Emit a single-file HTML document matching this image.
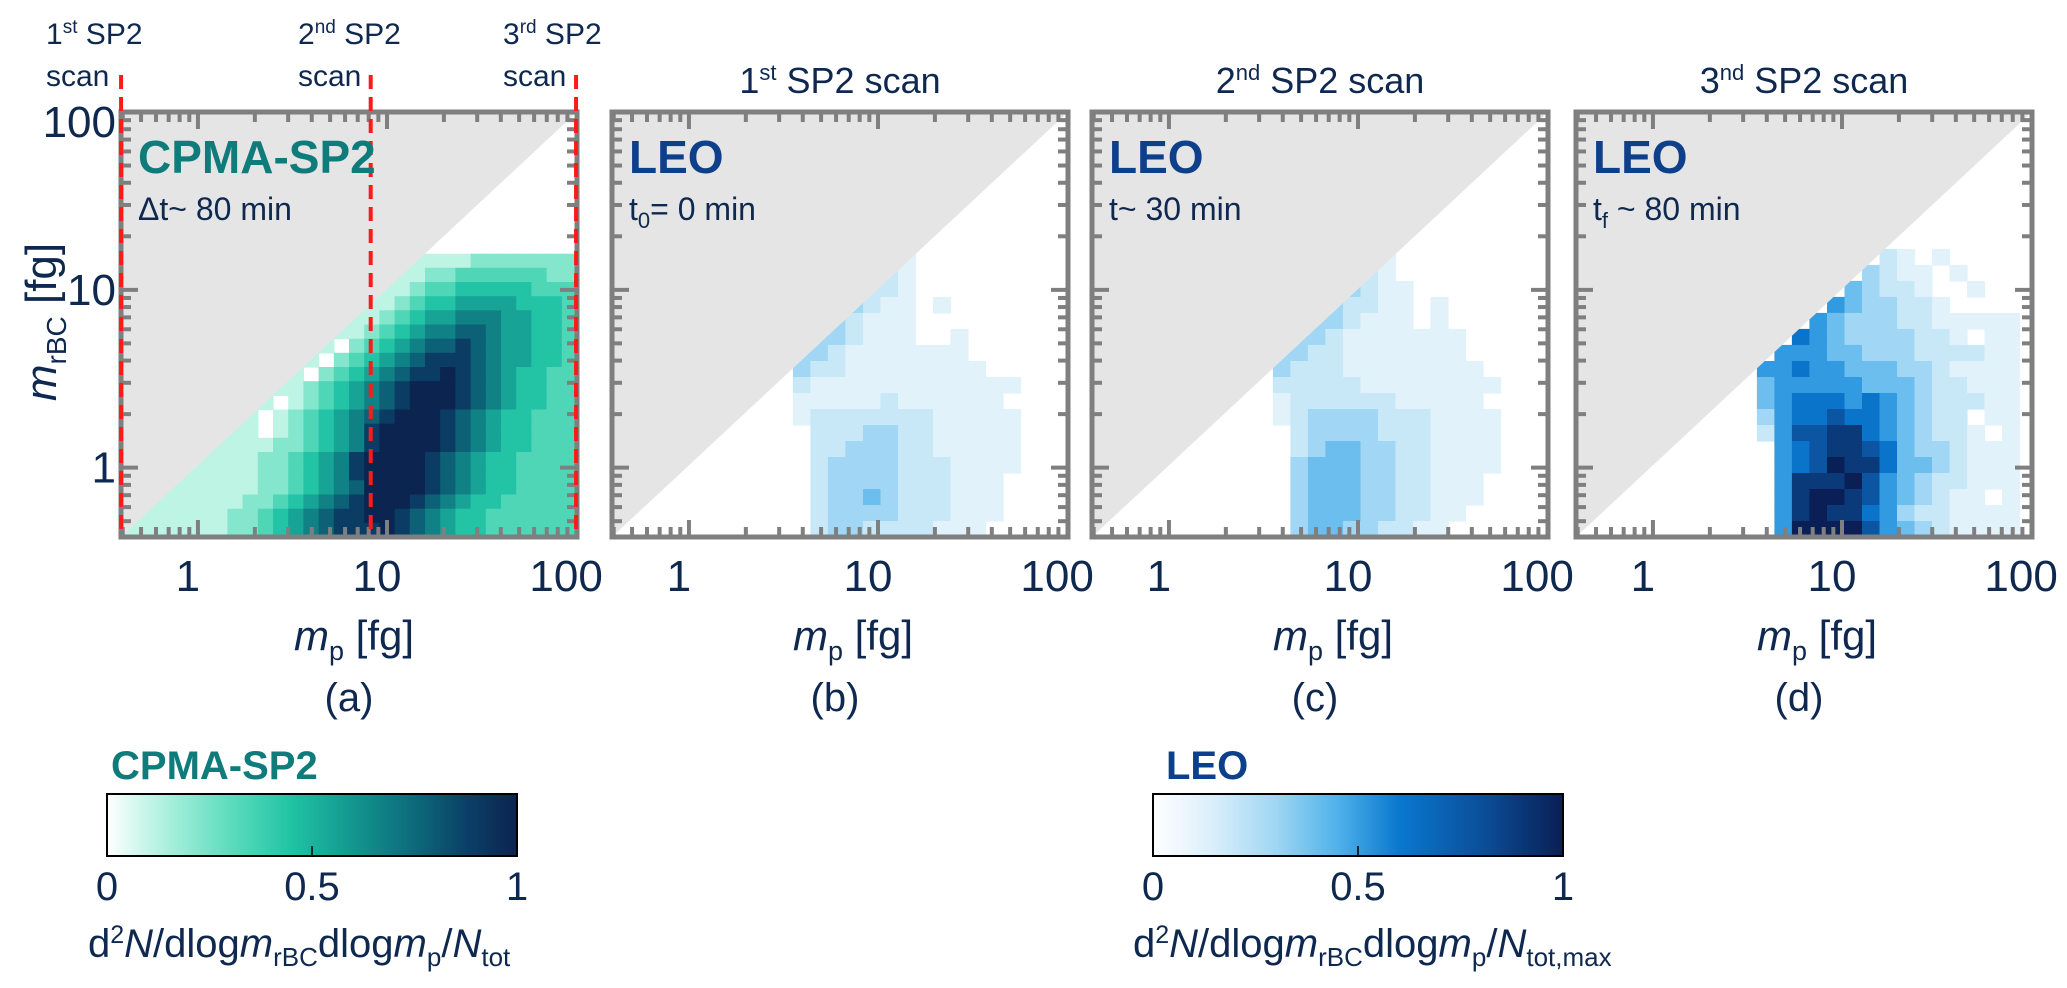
<!DOCTYPE html>
<html><head><meta charset="utf-8"><style>
html,body{margin:0;padding:0;background:#fff;}
svg{display:block;font-family:"Liberation Sans",sans-serif;}
text{fill:#0f2850;}
</style></head><body>
<svg id="fig" width="2067" height="988" viewBox="0 0 2067 988" xmlns="http://www.w3.org/2000/svg">
<defs>
<linearGradient id="gC" x1="0" x2="1" y1="0" y2="0">
<stop offset="0" stop-color="#ffffff"/><stop offset="0.12" stop-color="#b8f3e2"/><stop offset="0.3" stop-color="#5ddcbd"/><stop offset="0.45" stop-color="#20c3a4"/><stop offset="0.6" stop-color="#13968f"/><stop offset="0.75" stop-color="#0c6a7a"/><stop offset="0.88" stop-color="#0b3f66"/><stop offset="1" stop-color="#0b2450"/>
</linearGradient>
<linearGradient id="gL" x1="0" x2="1" y1="0" y2="0">
<stop offset="0" stop-color="#ffffff"/><stop offset="0.15" stop-color="#d9eefa"/><stop offset="0.3" stop-color="#9fd6f3"/><stop offset="0.45" stop-color="#4fb2ea"/><stop offset="0.6" stop-color="#0a78d0"/><stop offset="0.8" stop-color="#0b4f9a"/><stop offset="1" stop-color="#0a1f55"/>
</linearGradient>
</defs>
<g id="layer"></g>

<text x="46" y="44" font-size="30">1<tspan dy="-11" font-size="19">st</tspan><tspan dy="11"> SP2</tspan></text>
<text x="46" y="86" font-size="30">scan</text>
<text x="298" y="44" font-size="30">2<tspan dy="-11" font-size="19">nd</tspan><tspan dy="11"> SP2</tspan></text>
<text x="298" y="86" font-size="30">scan</text>
<text x="503" y="44" font-size="30">3<tspan dy="-11" font-size="19">rd</tspan><tspan dy="11"> SP2</tspan></text>
<text x="503" y="86" font-size="30">scan</text>

<text x="840" y="93" font-size="36" text-anchor="middle">1<tspan dy="-13" font-size="22">st</tspan><tspan dy="13"> SP2 scan</tspan></text>
<text x="1320" y="93" font-size="36" text-anchor="middle">2<tspan dy="-13" font-size="22">nd</tspan><tspan dy="13"> SP2 scan</tspan></text>
<text x="1804" y="93" font-size="36" text-anchor="middle">3<tspan dy="-13" font-size="22">nd</tspan><tspan dy="13"> SP2 scan</tspan></text>

<text x="138" y="173" font-size="46" font-weight="bold" style="fill:#0f7b7b">CPMA-SP2</text>
<text x="138" y="220" font-size="32">Δt~ 80 min</text>
<text x="629" y="173" font-size="46" font-weight="bold" style="fill:#0d3f8a">LEO</text>
<text x="629" y="220" font-size="32">t<tspan dy="8" font-size="22">0</tspan><tspan dy="-8">= 0 min</tspan></text>
<text x="1109" y="173" font-size="46" font-weight="bold" style="fill:#0d3f8a">LEO</text>
<text x="1109" y="220" font-size="32">t~ 30 min</text>
<text x="1593" y="173" font-size="46" font-weight="bold" style="fill:#0d3f8a">LEO</text>
<text x="1593" y="220" font-size="32">t<tspan dy="8" font-size="22">f</tspan><tspan dy="-8"> ~ 80 min</tspan></text>

<text transform="translate(56,322) rotate(-90)" font-size="44" text-anchor="middle"><tspan font-style="italic">m</tspan><tspan dy="10" font-size="28">rBC</tspan><tspan dy="-10"> [fg]</tspan></text>

<text x="354" y="650" font-size="42" text-anchor="middle"><tspan font-style="italic">m</tspan><tspan dy="10" font-size="27">p</tspan><tspan dy="-10"> [fg]</tspan></text>
<text x="853" y="650" font-size="42" text-anchor="middle"><tspan font-style="italic">m</tspan><tspan dy="10" font-size="27">p</tspan><tspan dy="-10"> [fg]</tspan></text>
<text x="1333" y="650" font-size="42" text-anchor="middle"><tspan font-style="italic">m</tspan><tspan dy="10" font-size="27">p</tspan><tspan dy="-10"> [fg]</tspan></text>
<text x="1817" y="650" font-size="42" text-anchor="middle"><tspan font-style="italic">m</tspan><tspan dy="10" font-size="27">p</tspan><tspan dy="-10"> [fg]</tspan></text>
<text x="349" y="711" font-size="40" text-anchor="middle">(a)</text>
<text x="835" y="711" font-size="40" text-anchor="middle">(b)</text>
<text x="1315" y="711" font-size="40" text-anchor="middle">(c)</text>
<text x="1799" y="711" font-size="40" text-anchor="middle">(d)</text>

<text x="111" y="779" font-size="40" font-weight="bold" style="fill:#0f7b7b">CPMA-SP2</text>
<rect x="107" y="794" width="410" height="62" fill="url(#gC)" stroke="#000" stroke-width="2"/>
<line x1="312" y1="856" x2="312" y2="846" stroke="#000" stroke-width="1.5"/>
<text x="107" y="900" font-size="40" text-anchor="middle">0</text>
<text x="312" y="900" font-size="40" text-anchor="middle">0.5</text>
<text x="517" y="900" font-size="40" text-anchor="middle">1</text>
<text x="88" y="957" font-size="40">d<tspan dy="-14" font-size="25">2</tspan><tspan dy="14" font-style="italic">N</tspan>/dlog<tspan font-style="italic">m</tspan><tspan dy="9" font-size="26">rBC</tspan><tspan dy="-9">dlog</tspan><tspan font-style="italic">m</tspan><tspan dy="9" font-size="26">p</tspan><tspan dy="-9">/</tspan><tspan font-style="italic">N</tspan><tspan dy="9" font-size="26">tot</tspan></text>

<text x="1166" y="779" font-size="40" font-weight="bold" style="fill:#0d3f8a">LEO</text>
<rect x="1153" y="794" width="410" height="62" fill="url(#gL)" stroke="#000" stroke-width="2"/>
<line x1="1358" y1="856" x2="1358" y2="846" stroke="#000" stroke-width="1.5"/>
<text x="1153" y="900" font-size="40" text-anchor="middle">0</text>
<text x="1358" y="900" font-size="40" text-anchor="middle">0.5</text>
<text x="1563" y="900" font-size="40" text-anchor="middle">1</text>
<text x="1133" y="957" font-size="40">d<tspan dy="-14" font-size="25">2</tspan><tspan dy="14" font-style="italic">N</tspan>/dlog<tspan font-style="italic">m</tspan><tspan dy="9" font-size="26">rBC</tspan><tspan dy="-9">dlog</tspan><tspan font-style="italic">m</tspan><tspan dy="9" font-size="26">p</tspan><tspan dy="-9">/</tspan><tspan font-style="italic">N</tspan><tspan dy="9" font-size="26">tot,max</tspan></text>
</svg>
<script>
// ---- data ----
const xTickValues = [1, 10, 100];
const xTickLabels = ["1", "10", "100"];
const yTickValues = [1, 10, 100];
const yTickLabels = ["1", "10", "100"];
const scanMasses = [0.392, 8.2, 100];
// CPMA-SP2 grid (top row first), digits 0-9 -> value/9, '.' empty
const cpmaRows = [
"..............................",
"..............................",
"..............................",
"..............................",
"..............................",
"..............................",
"..............................",
"..............................",
"..............................",
"..............................",
"...................11112222222",
"..................112233333322",
".................1123344444333",
"................11234455554443",
"...............112345566655443",
"..............1123456677655443",
".............10234567787655443",
"............102345678887655443",
"...........1023456788987654433",
"..........11234567899987654433",
".........101234567899987654433",
"........1012345678999876544333",
".......11012345689999876544333",
"......111122345689999876544333",
".....1111223456899998765443333",
"....11111223456899998765443333",
"...111111223456799998765443333",
"..1111112234567899987654433333",
".11111122345678899876544333333",
"111111122345678889876544333333"
];
// LEO grids (top row first)
const leoB = [
"......1........",
".....21........",
"....221........",
"...3211.1......",
"..32111........",
".332111..1.....",
"3321111111.....",
"32211111111....",
"2111111111111..",
"111112111111...",
"1222222211111..",
".222332211111..",
".223332211111..",
".233332221111..",
".23333222111...",
".23343222111...",
".23333222111...",
".2332222111...."
];
const leoC = [
"......1........",
".....21........",
"....3211.......",
"...32211.1.....",
"..332111.1.....",
".3321111111....",
"33221111111....",
"322211111111...",
"2222211111111..",
"122222211111...",
"1233332221111..",
".233332221111..",
".234433221111..",
".344433221111..",
".34443322111...",
".34443322111...",
".3444332211....",
".344332211....."
];
const leoD = [
".......21.1....",
"......3211.1...",
".....43221..1..",
"....5433221....",
"...543332211111",
"..6543333221.11",
".55544333222211",
"556554443321111",
"455555444322111",
"456665654322211",
"356676654322.11",
"2577886543221.1",
".56788764332111",
".56798864432111",
".58889754322111",
".589987543211.1",
".58988653221111",
".59999754321111"
];

// ---- geometry ----
const panelLefts = [121, 612, 1092, 1576];
const TOP = 112, W = 456, H = 425;
const XL0 = -0.407, XL1 = 2.005, YL0 = -0.39, YL1 = 2.0;
function xs(v, left){ return left + (Math.log10(v) - XL0) / (XL1 - XL0) * W; }
function xsl(l, left){ return left + (l - XL0) / (XL1 - XL0) * W; }
function ys(v){ return TOP + H - (Math.log10(v) - YL0) / (YL1 - YL0) * H; }
function ysl(l){ return TOP + H - (l - YL0) / (YL1 - YL0) * H; }

const NS = "http://www.w3.org/2000/svg";
const layer = document.getElementById('layer');
function mk(tag, attrs, parent){ const e = document.createElementNS(NS, tag); for (const k in attrs) e.setAttribute(k, attrs[k]); (parent||layer).appendChild(e); return e; }
function hex(c){ return [parseInt(c.slice(1,3),16),parseInt(c.slice(3,5),16),parseInt(c.slice(5,7),16)]; }
function cmap(stops, t){
  for (let i=1;i<stops.length;i++){ if (t<=stops[i][0]){ const a=stops[i-1], b=stops[i]; const f=(t-a[0])/(b[0]-a[0]); const ca=hex(a[1]), cb=hex(b[1]); return 'rgb('+ca.map((v,k)=>Math.round(v+(cb[k]-v)*f)).join(',')+')'; } }
  return stops[stops.length-1][1];
}
const cStops = [[0,'#ffffff'],[0.12,'#b8f3e2'],[0.3,'#5ddcbd'],[0.45,'#20c3a4'],[0.6,'#13968f'],[0.75,'#0c6a7a'],[0.88,'#0b3f66'],[1,'#0b2450']];
const lStops = [[0,'#ffffff'],[0.12,'#e0f1fa'],[0.25,'#c2e5f7'],[0.4,'#86cbf1'],[0.5,'#4aaee9'],[0.65,'#0a78d0'],[0.8,'#0b4f9a'],[1,'#0a1f55']];

function drawGrid(rows, left, xl0, dx, yl0, dy, stops, name){
  const g = mk('g', {'clip-path':'url(#clip'+left+')'});
  
  
  const n = rows.length;
  rows.forEach((row, r) => {
    const j = n - 1 - r;
    for (let i=0;i<row.length;i++){
      const ch = row[i];
      if (ch === '.' || ch === '0') continue;
      const v = parseInt(ch,10)/9;
      const x0 = xsl(xl0 + i*dx, left), x1 = xsl(xl0 + (i+1)*dx, left);
      const y0 = ysl(yl0 + (j+1)*dy), y1 = ysl(yl0 + j*dy);
      const c = mk('rect', {x:x0.toFixed(1), y:y0.toFixed(1), width:(x1-x0+0.6).toFixed(1), height:(y1-y0+0.6).toFixed(1), fill:cmap(stops, v)}, g);
      
      
    }
  });
}

const defs = document.querySelector('defs');
const grids = [cpmaRows, leoB, leoC, leoD];
panelLefts.forEach((left, p) => {
  const cp = mk('clipPath', {id:'clip'+left}, defs);
  mk('rect', {x:left, y:TOP, width:W, height:H}, cp);
  if (p === 0) drawGrid(cpmaRows, left, XL0, (XL1-XL0)/30, YL0, (YL1-YL0)/30, cStops, 'cpma-heatmap');
  else drawGrid(grids[p], left, 0.55, 0.0926, YL0, 0.09, lStops, 'leo-heatmap-'+p);
  const tri = mk('polygon', {points: `${left},${TOP+H} ${left},${TOP} ${left+W},${TOP}`, fill:'#e5e5e5'});
  
  
  const tg = mk('g', {stroke:'#7f7f7f', 'stroke-width':4});
  
  
  for (let e=-1;e<=2;e++){
    for (let m=1;m<=9;m++){
      const v = m*Math.pow(10,e);
      const l = Math.log10(v);
      const major = (m===1);
      const len = major ? 17 : 10;
      if (l > XL0+0.005 && l < XL1-0.005){
        const x = xs(v, left);
        mk('line', {x1:x, y1:TOP+H, x2:x, y2:TOP+H-len}, tg);
        mk('line', {x1:x, y1:TOP, x2:x, y2:TOP+len}, tg);
      }
      if (l > YL0+0.005 && l < YL1-0.005){
        const y = ys(v);
        mk('line', {x1:left, y1:y, x2:left+len, y2:y}, tg);
        mk('line', {x1:left+W, y1:y, x2:left+W-len, y2:y}, tg);
      }
    }
  }
  const box = mk('rect', {x:left, y:TOP, width:W, height:H, fill:'none', stroke:'#7f7f7f', 'stroke-width':5});
  
  
  xTickValues.forEach((v, k) => {
    const t = mk('text', {x:(xs(v,left)-10).toFixed(1), y:591, 'font-size':44, 'text-anchor':'middle'});
    t.textContent = xTickLabels[k];
    
    
  });
  if (p === 0){
    yTickValues.forEach((v, k) => {
      const t = mk('text', {x:116, y:Math.max(ys(v)+15, 137).toFixed(1), 'font-size':44, 'text-anchor':'end'});
      t.textContent = yTickLabels[k];
      
      
    });
    scanMasses.forEach((m) => {
      let x = xs(m, left);
      x = Math.min(Math.max(x, left), left+W);
      const ln = mk('line', {x1:x, y1:75, x2:x, y2:TOP+H, stroke:'#ff1a1a', 'stroke-width':4, 'stroke-dasharray':'14 8'});
      
      
    });
  }
});
</script>
</body></html>
